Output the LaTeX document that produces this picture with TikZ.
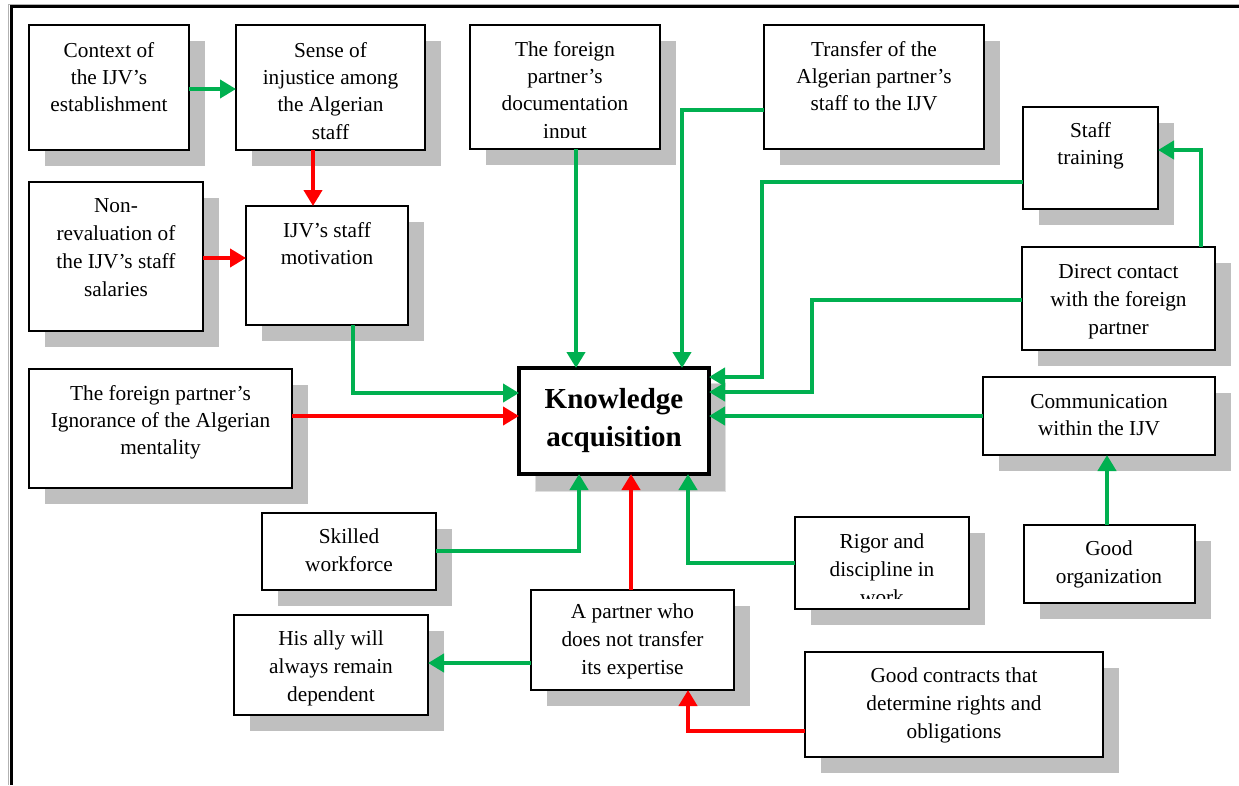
\documentclass[tikz,border=0pt]{standalone}
\usepackage{fontspec}
\setmainfont{Liberation Serif}
\usetikzlibrary{arrows.meta}
\definecolor{gr}{RGB}{0,176,80}
\definecolor{rd}{RGB}{255,0,0}
\definecolor{shd}{RGB}{191,191,191}
\newcommand\tl[1]{\begin{tabular}[t]{@{}c@{}}#1\end{tabular}}
% name, x1, y1, x2, y2
\newcommand\ubox[5]{%
  \fill[shd] (#2+16,#3+16) rectangle (#4+16,#5+16);
  \node[bx, minimum width={(#4-#2)*1pt}, minimum height={(#5-#3)*1pt}] (#1) at ({(#2+#4)/2},{(#3+#5)/2}) {};
}
\begin{document}
\begin{tikzpicture}[x=1pt,y=-1pt,
  bx/.style={rectangle, draw=black, line width=1.8pt, fill=white, inner sep=0pt, outer sep=0pt},
  txt/.style={anchor=base, inner sep=0pt, font=\fontsize{21.3}{27.4}\selectfont},
  wtxt/.style={anchor=base, inner sep=0pt, font=\fontsize{21.3}{28.2}\selectfont},
  conn/.style={line width=4.5pt, -{Triangle[width=18pt,length=16pt]}},
  ga/.style={conn, color=gr},
  ra/.style={conn, color=rd}]
\useasboundingbox (0,0) rectangle (1239,785);
% frame
\draw[gray!60, line width=1pt] (8.5,785) -- (8.5,4) -- (1239,4);
\draw[black, line width=3pt] (11,785) -- (11,6.5) -- (1239,6.5);

% boxes
\ubox{ctx}{29}{25}{189}{150}
\ubox{sense}{236}{25}{425}{150}
\ubox{doc}{470}{25}{660}{149}
\ubox{transfer}{764}{25}{984}{149}
\ubox{training}{1023}{107}{1158}{209}
\ubox{nonrev}{29}{182}{203}{331}
\ubox{motiv}{246}{206}{408}{325}
\ubox{ignor}{29}{369}{292}{488}
\ubox{direct}{1022}{247}{1215}{350}
\ubox{comm}{983}{377}{1215}{455}
\ubox{goodorg}{1024}{525}{1195}{603}
\ubox{rigor}{795}{517}{969}{609}
\ubox{skilled}{262}{513}{436}{590}
\ubox{ally}{234}{615}{428}{715}
\ubox{partner}{531}{590}{734}{690}
\ubox{contracts}{805}{652}{1103}{757}
% knowledge box
\filldraw[fill=shd, draw=gray!25, line width=1pt] (535,383) rectangle (725,491);
\node[bx, line width=3.3pt, minimum width=190pt, minimum height=106pt] (know) at (614,421) {};

% texts
\node[txt] at (109,57) {\tl{Context of\\the IJV’s\\establishment}};
\node[txt] at (330.5,57) {\tl{Sense of\\injustice among\\the Algerian\\staff}};
\begin{scope}
\clip (470,25) rectangle (660,137);
\node[txt] at (565,56) {\tl{The foreign\\partner’s\\documentation\\input}};
\end{scope}
\node[txt] at (874,56) {\tl{Transfer of the\\Algerian partner’s\\staff to the IJV}};
\node[txt] at (1090.5,137) {\tl{Staff\\training}};
\node[wtxt] at (116,212) {\tl{Non-\\revaluation of\\the IJV’s staff\\salaries}};
\node[txt] at (327,237) {\tl{IJV’s staff\\motivation}};
\node[txt] at (160.5,400) {\tl{The foreign partner’s\\Ignorance of the Algerian\\mentality}};
\node[wtxt] at (1118.5,278) {\tl{Direct contact\\with the foreign\\partner}};
\node[txt] at (1099,408) {\tl{Communication\\within the IJV}};
\node[wtxt] at (1109,555) {\tl{Good\\organization}};
\begin{scope}
\clip (795,517) rectangle (969,598);
\node[wtxt] at (882,548) {\tl{Rigor and\\discipline in\\work}};
\end{scope}
\node[wtxt] at (349,543) {\tl{Skilled\\workforce}};
\node[wtxt] at (331,645) {\tl{His ally will\\always remain\\dependent}};
\node[wtxt] at (632.5,618) {\tl{A partner who\\does not transfer\\its expertise}};
\node[wtxt] at (954,682) {\tl{Good contracts that\\determine rights and\\obligations}};
\node[anchor=base, inner sep=0pt, font=\fontsize{29}{38.5}\selectfont\bfseries] at (614,408) {\tl{Knowledge\\acquisition}};

% connectors
\draw[ga] (ctx.east |- 0,89) -- (sense.west |- 0,89);
\draw[ra] (sense.south -| 313,0) -- (motiv.north -| 313,0);
\draw[ra] (nonrev.east |- 0,258) -- (motiv.west |- 0,258);
\draw[ga] (motiv.south -| 353,0) |- (know.west |- 0,393);
\draw[ra] (ignor.east |- 0,416) -- (know.west |- 0,416);
\draw[ga] (doc.south -| 576,0) -- (know.north -| 576,0);
\draw[ga] (transfer.west |- 0,110) -| (know.north -| 682,0);
\draw[ga] (training.west |- 0,182) -- (762,182) -- (762,377) -- (know.east |- 0,377);
\draw[ga] (direct.west |- 0,300) -- (812,300) -- (812,392) -- (know.east |- 0,392);
\draw[ga] (comm.west |- 0,416) -- (know.east |- 0,416);
\draw[ga] (direct.north -| 1201,0) |- (training.east |- 0,150);
\draw[ga] (goodorg.north -| 1107,0) -- (comm.south -| 1107,0);
\draw[ga] (skilled.east |- 0,551) -| (know.south -| 579,0);
\draw[ra] (partner.north -| 631,0) -- (know.south -| 631,0);
\draw[ga] (rigor.west |- 0,563) -| (know.south -| 688,0);
\draw[ga] (partner.west |- 0,663) -- (ally.east |- 0,663);
\draw[ra] (contracts.west |- 0,731) -| (partner.south -| 688,0);
\end{tikzpicture}
\end{document}
